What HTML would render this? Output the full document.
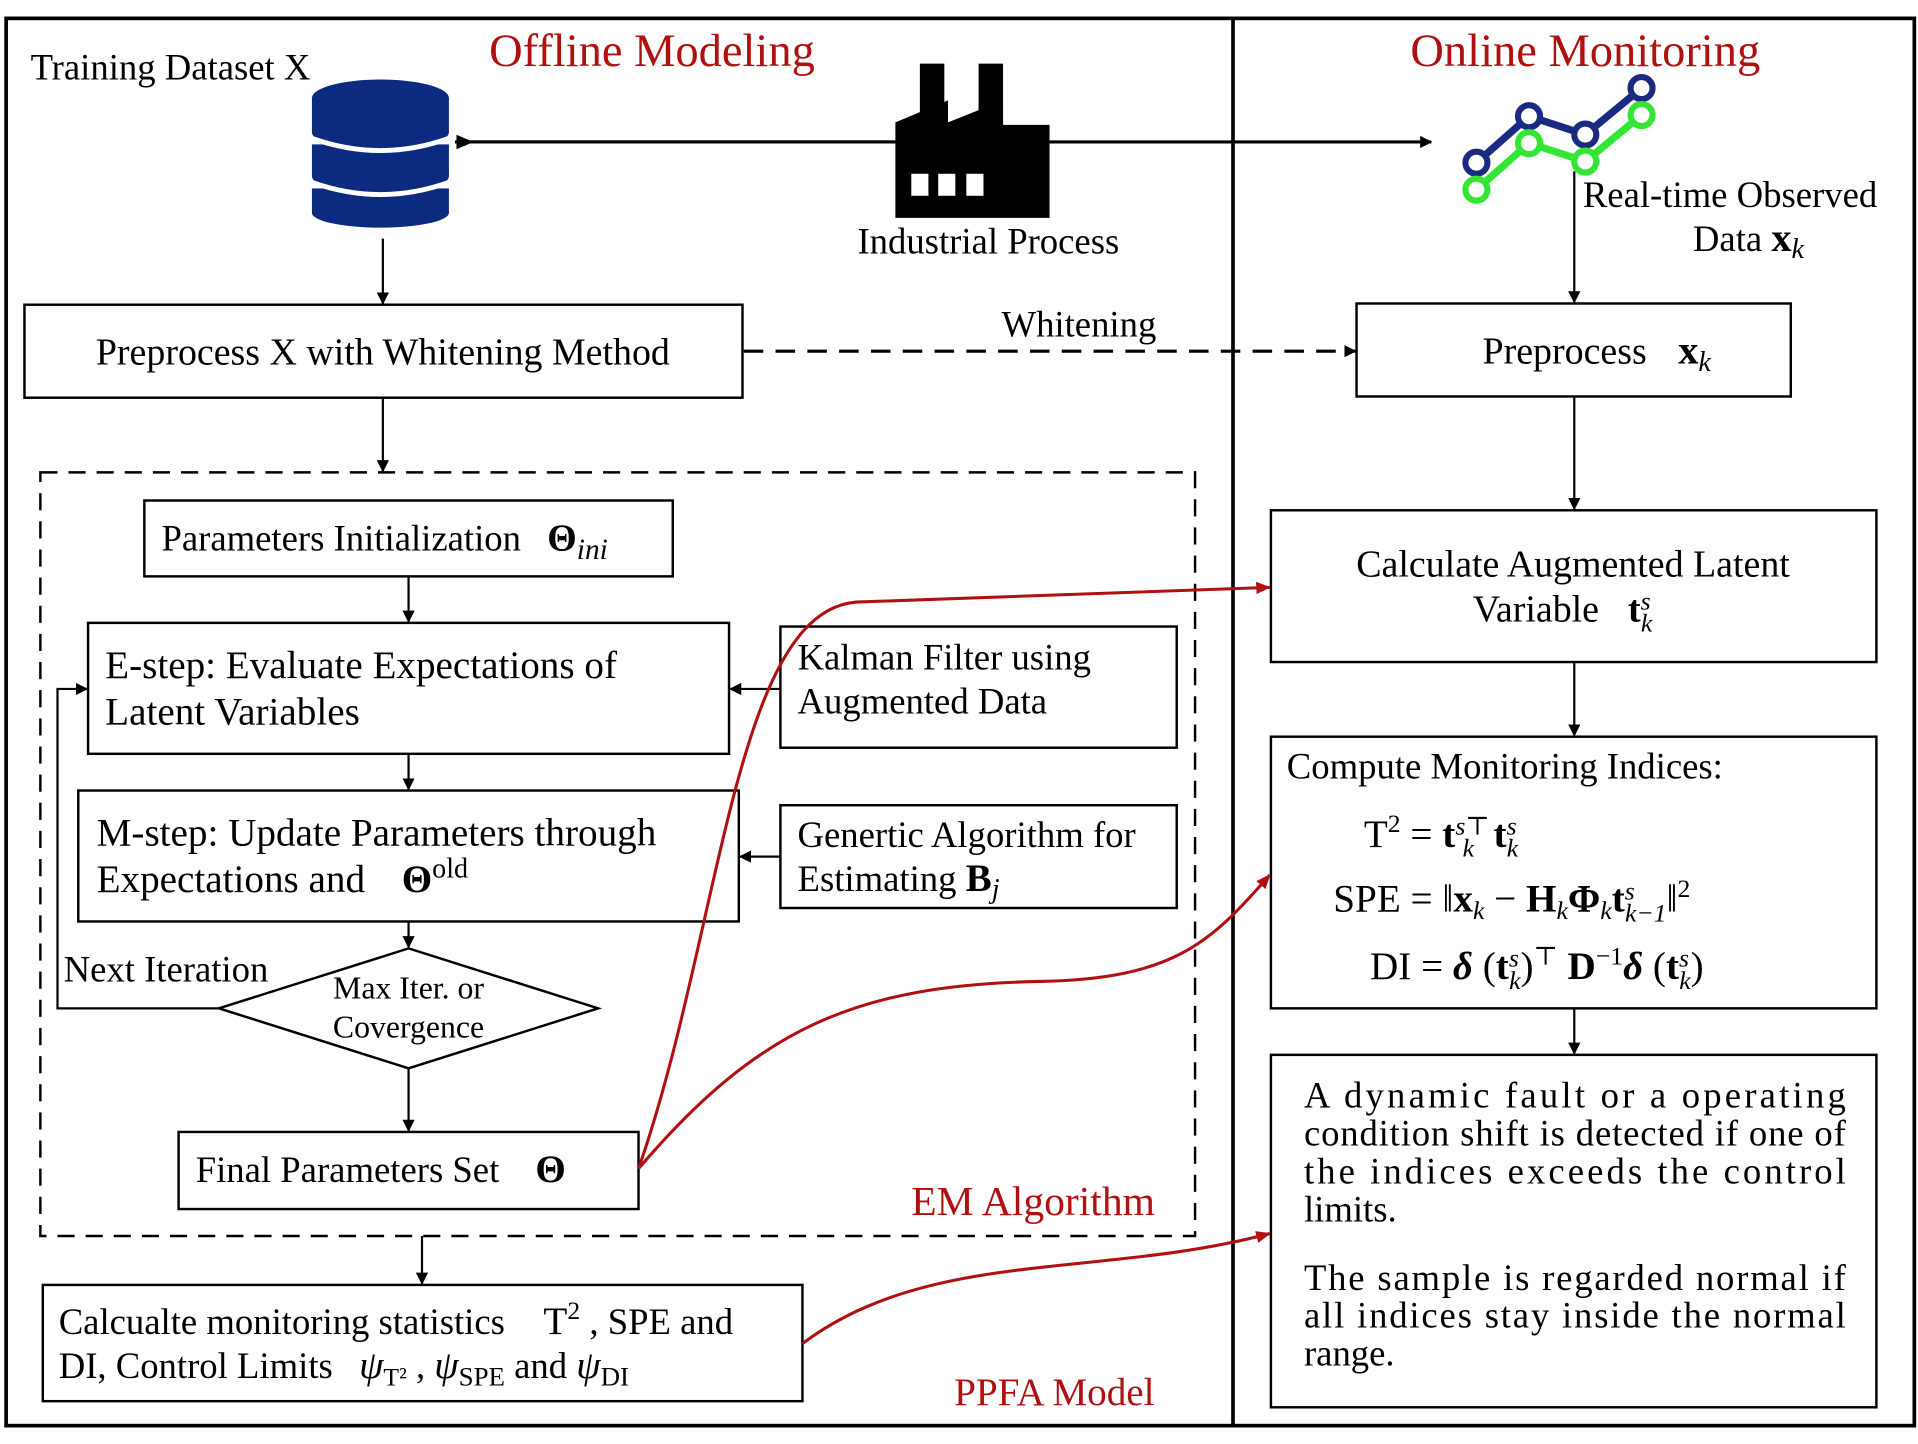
<!DOCTYPE html>
<html><head><meta charset="utf-8"><style>
html,body{margin:0;padding:0;background:#fff}
svg{display:block}
text{font-family:"Liberation Serif","DejaVu Serif",serif;fill:#000}
.r{fill:#b01010}
</style></head><body>
<svg width="1918" height="1444" viewBox="0 0 1568 1180" preserveAspectRatio="none" xmlns="http://www.w3.org/2000/svg">
<defs>
<marker id="a" markerWidth="10" markerHeight="10" refX="9" refY="5" orient="auto" markerUnits="userSpaceOnUse"><path d="M0,0 L10,5 L0,10 Z" fill="#000"/></marker>
<marker id="ar" markerWidth="12" markerHeight="10" refX="11" refY="5" orient="auto" markerUnits="userSpaceOnUse"><path d="M0,0 L12,5 L0,10 Z" fill="#b01010"/></marker>
<marker id="as" markerWidth="14" markerHeight="12" refX="1" refY="6" orient="auto-start-reverse" markerUnits="userSpaceOnUse"><path d="M14,0 L0,6 L14,12 Z" fill="#000"/></marker>
</defs>
<g fill="none" stroke="#000" stroke-width="2">
<rect x="5" y="15" width="1560" height="1150" stroke-width="3"/>
<line x1="1008" y1="15" x2="1008" y2="1165" stroke-width="3"/>
<rect x="20" y="249" width="587" height="76"/>
<rect x="1109" y="248" width="355" height="76"/>
<rect x="33" y="386" width="944" height="624" stroke-dasharray="14,9"/>
<rect x="118" y="409" width="432" height="62"/>
<rect x="72" y="509" width="524" height="107"/>
<rect x="638" y="512" width="324" height="99"/>
<rect x="64" y="646" width="540" height="107"/>
<rect x="638" y="658" width="324" height="84"/>
<path d="M179,824 L334,775 L489,824 L334,873 Z"/>
<rect x="146" y="925" width="376" height="63"/>
<rect x="35" y="1050" width="621" height="95"/>
<rect x="1039" y="417" width="495" height="124"/>
<rect x="1039" y="602" width="495" height="222"/>
<rect x="1039" y="862" width="495" height="288"/>
</g>
<g fill="none" stroke="#000" stroke-width="1.8">
<line x1="372" y1="116" x2="1170" y2="116" stroke-width="2.5" marker-end="url(#a)"/>
<line x1="386" y1="116" x2="730" y2="116" stroke-width="2.5" marker-start="url(#as)"/>
<line x1="313" y1="195" x2="313" y2="248" marker-end="url(#a)"/>
<line x1="1287" y1="140" x2="1287" y2="247" marker-end="url(#a)"/>
<line x1="608" y1="287" x2="1108" y2="287" stroke-width="2.5" stroke-dasharray="16,10" marker-end="url(#a)"/>
<line x1="313" y1="325" x2="313" y2="385" marker-end="url(#a)"/>
<line x1="334" y1="471" x2="334" y2="508" marker-end="url(#a)"/>
<line x1="638" y1="563" x2="597" y2="563" marker-end="url(#a)"/>
<line x1="334" y1="616" x2="334" y2="645" marker-end="url(#a)"/>
<line x1="638" y1="700" x2="605" y2="700" marker-end="url(#a)"/>
<line x1="334" y1="753" x2="334" y2="774" marker-end="url(#a)"/>
<polyline points="179,824 47,824 47,563 71,563" marker-end="url(#a)"/>
<line x1="334" y1="873" x2="334" y2="924" marker-end="url(#a)"/>
<line x1="345" y1="1010" x2="345" y2="1049" marker-end="url(#a)"/>
<line x1="1287" y1="324" x2="1287" y2="416" marker-end="url(#a)"/>
<line x1="1287" y1="541" x2="1287" y2="601" marker-end="url(#a)"/>
<line x1="1287" y1="824" x2="1287" y2="861" marker-end="url(#a)"/>
</g>
<g fill="none" stroke="#b01010" stroke-width="2.5">
<path d="M522,955 C590,760 600,500 700,492 L1038,480" marker-end="url(#ar)"/>
<path d="M522,955 C620,840 700,805 850,802 C960,800 990,770 1038,715" marker-end="url(#ar)"/>
<path d="M656,1098 C760,1020 900,1045 1038,1008" marker-end="url(#ar)"/>
</g>
<g fill="#0b2a80">
<ellipse cx="311" cy="80" rx="56" ry="15"/>
<rect x="255" y="80" width="112" height="28"/>
<ellipse cx="311" cy="108" rx="56" ry="15"/>
<rect x="255" y="118" width="112" height="26"/>
<ellipse cx="311" cy="144" rx="56" ry="15"/>
<rect x="255" y="154" width="112" height="20"/>
<ellipse cx="311" cy="174" rx="56" ry="12"/>
</g>
<g fill="none" stroke="#fff" stroke-width="4">
<path d="M255,113 Q311,133 367,113"/><path d="M255,149 Q311,169 367,149"/>
</g>
<g fill="#000">
<rect x="752" y="52" width="20" height="50"/><rect x="800" y="52" width="20" height="50"/>
<path d="M732,178 L732,100 L775,82 L775,100 L820,82 L820,102 L858,102 L858,178 Z"/>
</g>
<g fill="#fff"><rect x="745" y="142" width="14" height="18"/><rect x="767" y="142" width="14" height="18"/><rect x="790" y="142" width="14" height="18"/></g>
<polyline points="1207,133 1250,95 1296,110 1342,72" fill="none" stroke="#1a2a80" stroke-width="6"/>
<polyline points="1207,155 1250,117 1296,132 1342,94" fill="none" stroke="#33e633" stroke-width="6"/>
<g fill="#fff" stroke-width="5">
<circle cx="1207" cy="133" r="9" stroke="#1a2a80"/><circle cx="1250" cy="95" r="9" stroke="#1a2a80"/><circle cx="1296" cy="110" r="9" stroke="#1a2a80"/><circle cx="1342" cy="72" r="9" stroke="#1a2a80"/>
<circle cx="1207" cy="155" r="9" stroke="#33e633"/><circle cx="1250" cy="117" r="9" stroke="#33e633"/><circle cx="1296" cy="132" r="9" stroke="#33e633"/><circle cx="1342" cy="94" r="9" stroke="#33e633"/>
</g>
<text x="533" y="54" font-size="38" text-anchor="middle" class="r">Offline Modeling</text>
<text x="1296" y="54" font-size="38" text-anchor="middle" class="r">Online Monitoring</text>
<text x="25" y="65" font-size="30">Training Dataset X</text>
<text x="808" y="207" font-size="30" text-anchor="middle">Industrial Process</text>
<text x="1294" y="169" font-size="30">Real-time Observed</text>
<text x="1384" y="205" font-size="30">Data <tspan font-weight="bold" font-size="33">x</tspan><tspan font-style="italic" font-size="23" dy="6">k</tspan></text>
<text x="313" y="298" font-size="31" text-anchor="middle">Preprocess X with Whitening Method</text>
<text x="882" y="275" font-size="30" text-anchor="middle">Whitening</text>
<text x="1212" y="297" font-size="31">Preprocess <tspan dx="18" font-weight="bold" font-size="33">x</tspan><tspan font-style="italic" font-size="23" dy="6">k</tspan></text>
<text x="132" y="450" font-size="30">Parameters Initialization <tspan dx="14" font-weight="bold" font-size="31">Θ</tspan><tspan font-style="italic" font-size="24" dy="7">ini</tspan></text>
<text x="86" y="554" font-size="32">E-step: Evaluate Expectations of</text>
<text x="86" y="592" font-size="32">Latent Variables</text>
<text x="652" y="547" font-size="30">Kalman Filter using</text>
<text x="652" y="583" font-size="30">Augmented Data</text>
<text x="79" y="691" font-size="32">M-step: Update Parameters through</text>
<text x="79" y="729" font-size="32">Expectations and <tspan dx="22" font-weight="bold">Θ</tspan><tspan font-size="23" dy="-12">old</tspan></text>
<text x="652" y="692" font-size="30">Genertic Algorithm for</text>
<text x="652" y="728" font-size="30">Estimating <tspan font-weight="bold" font-size="32">B</tspan><tspan font-style="italic" font-size="23" dy="6">j</tspan></text>
<text x="52" y="802" font-size="30">Next Iteration</text>
<text x="334" y="816" font-size="26" text-anchor="middle">Max Iter. or</text>
<text x="334" y="848" font-size="26" text-anchor="middle">Covergence</text>
<text x="160" y="966" font-size="30">Final Parameters Set <tspan dx="22" font-weight="bold" font-size="32">Θ</tspan></text>
<text x="745" y="993" font-size="34" class="r">EM Algorithm</text>
<text x="48" y="1090" font-size="30">Calcualte monitoring statistics <tspan dx="24" font-size="32">T</tspan><tspan font-size="21" dy="-12">2</tspan><tspan dy="12"> , SPE and</tspan></text>
<text x="48" y="1126" font-size="30">DI, Control Limits <tspan dx="14" font-style="italic" font-size="32">ψ</tspan><tspan font-size="21" dy="6">T²</tspan><tspan dy="-6"> , </tspan><tspan font-style="italic" font-size="32">ψ</tspan><tspan font-size="22" dy="6">SPE</tspan><tspan dy="-6"> and </tspan><tspan font-style="italic" font-size="32">ψ</tspan><tspan font-size="22" dy="6">DI</tspan></text>
<text x="780" y="1148" font-size="32" class="r">PPFA Model</text>
<text x="1286" y="471" font-size="31" text-anchor="middle">Calculate Augmented Latent</text>
<text x="1204" y="508" font-size="31">Variable <tspan dx="16" font-weight="bold">t</tspan><tspan font-style="italic" font-size="21" dy="-10">s</tspan><tspan font-style="italic" font-size="21" dx="-8" dy="18">k</tspan></text>
<text x="1052" y="636" font-size="30">Compute Monitoring Indices:</text>
<text x="1115" y="692" font-size="32">T<tspan font-size="21" dy="-12">2</tspan><tspan dy="12"> = </tspan><tspan font-weight="bold">t</tspan><tspan font-style="italic" font-size="21" dy="-10">s</tspan><tspan font-size="21">⊤</tspan><tspan font-style="italic" font-size="21" dx="-22" dy="18">k</tspan><tspan dx="16" dy="-8" font-weight="bold" font-size="32">t</tspan><tspan font-style="italic" font-size="21" dy="-10">s</tspan><tspan font-style="italic" font-size="21" dx="-8" dy="18">k</tspan></text>
<text x="1090" y="745" font-size="32">SPE = ‖<tspan font-weight="bold">x</tspan><tspan font-style="italic" font-size="21" dy="6">k</tspan><tspan dy="-6"> − </tspan><tspan font-weight="bold">H</tspan><tspan font-style="italic" font-size="21" dy="6">k</tspan><tspan dy="-6" font-weight="bold">Φ</tspan><tspan font-style="italic" font-size="21" dy="6">k</tspan><tspan dy="-6" font-weight="bold">t</tspan><tspan font-style="italic" font-size="21" dy="-10">s</tspan><tspan font-style="italic" font-size="21" dx="-8" dy="18">k−1</tspan><tspan dy="-8">‖</tspan><tspan font-size="21" dy="-12">2</tspan></text>
<text x="1120" y="800" font-size="32">DI = <tspan font-weight="bold" font-style="italic">δ</tspan> (<tspan font-weight="bold">t</tspan><tspan font-style="italic" font-size="21" dy="-10">s</tspan><tspan font-style="italic" font-size="21" dx="-8" dy="18">k</tspan><tspan dy="-8">)</tspan><tspan font-size="21" dy="-12">⊤</tspan><tspan dy="12" font-weight="bold"> D</tspan><tspan font-size="21" dy="-12">−1</tspan><tspan dy="12" font-weight="bold" font-style="italic">δ</tspan> (<tspan font-weight="bold">t</tspan><tspan font-style="italic" font-size="21" dy="-10">s</tspan><tspan font-style="italic" font-size="21" dx="-8" dy="18">k</tspan><tspan dy="-8">)</tspan></text>
<g font-size="30">
<text x="1066" y="905" textLength="443" lengthAdjust="spacing">A dynamic fault or a operating</text>
<text x="1066" y="936" textLength="443" lengthAdjust="spacing">condition shift is detected if one of</text>
<text x="1066" y="967" textLength="443" lengthAdjust="spacing">the indices exceeds the control</text>
<text x="1066" y="998">limits.</text>
<text x="1066" y="1054" textLength="443" lengthAdjust="spacing">The sample is regarded normal if</text>
<text x="1066" y="1085" textLength="443" lengthAdjust="spacing">all indices stay inside the normal</text>
<text x="1066" y="1116">range.</text>
</g>
</svg>
</body></html>
